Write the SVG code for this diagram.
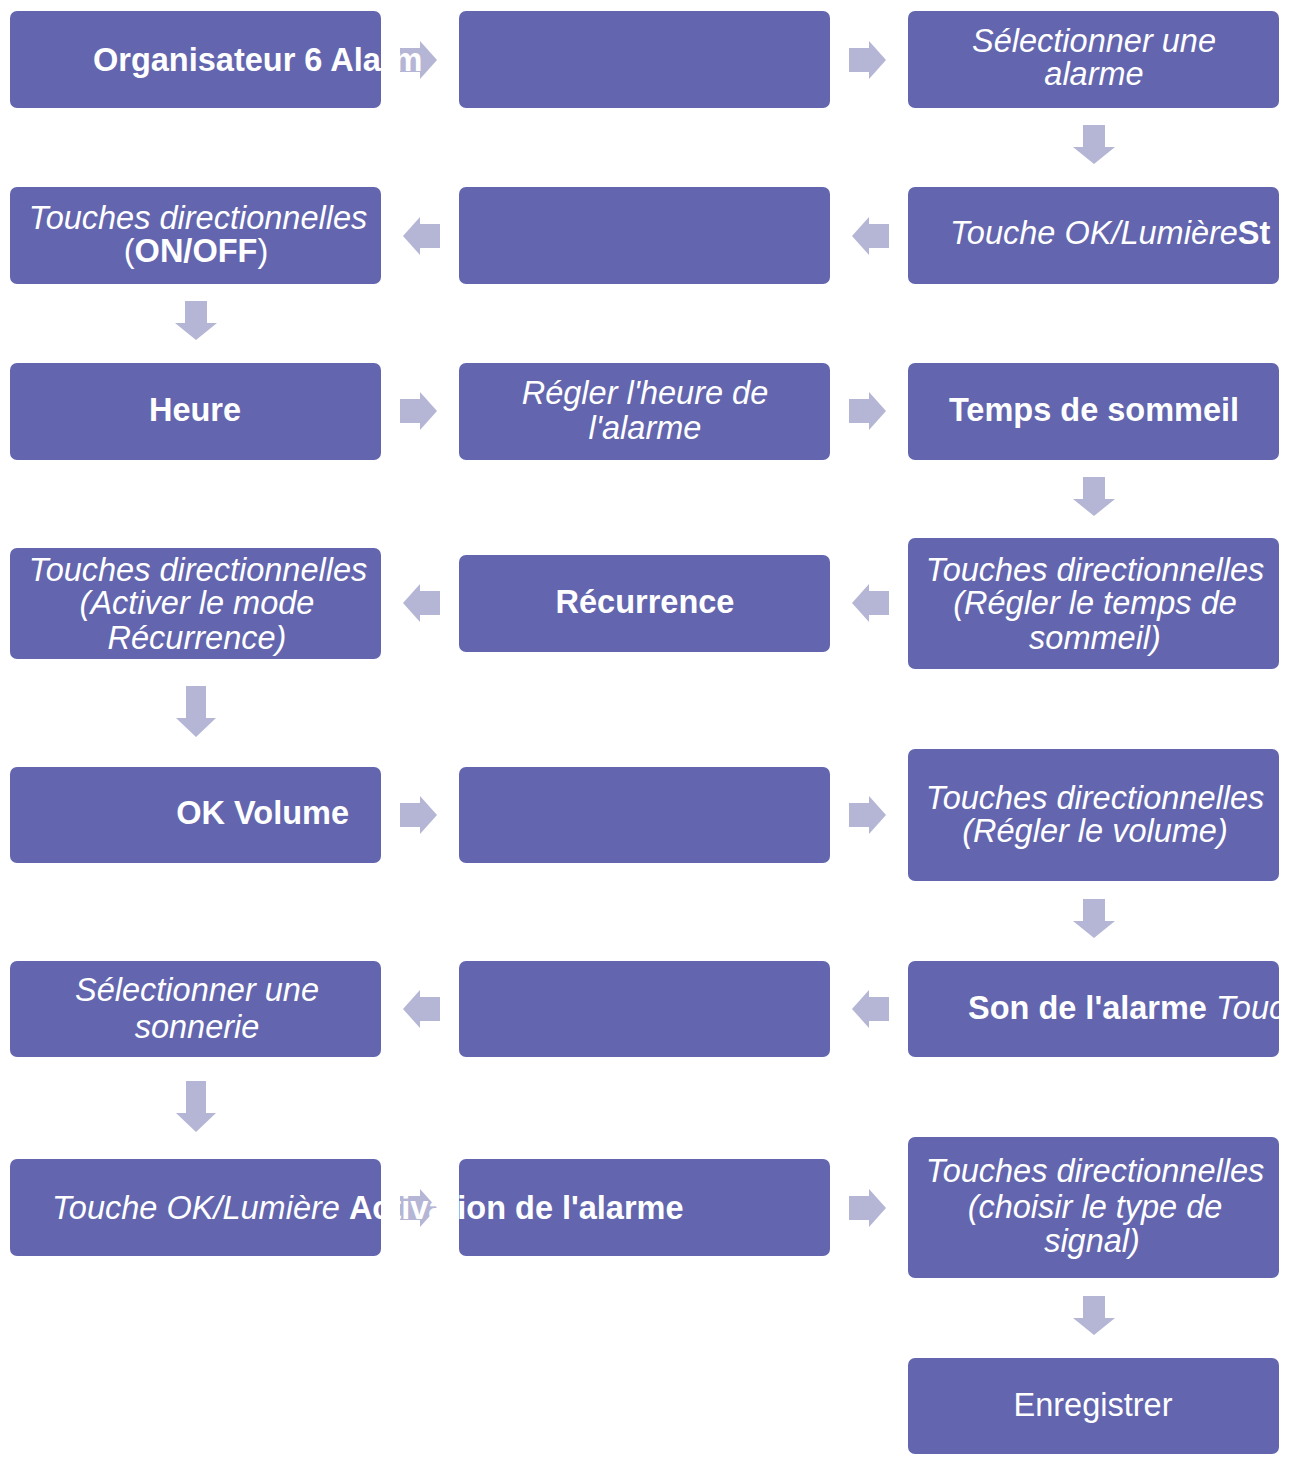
<svg xmlns="http://www.w3.org/2000/svg" width="1290" height="1462" viewBox="0 0 1290 1462">
<defs>
<style>
.box{fill:#6366ae;}
.arr{fill:#b5b6d5;}
text{fill:#ffffff;font-family:"Liberation Sans",Arial,Helvetica,sans-serif;font-size:32.5px;}
.i{font-style:italic;}
.b{font-weight:bold;}
.c{text-anchor:middle;}
</style>
<path id="ar" d="M0,-12 H20 V-19 L37,0 L20,19 V12 H0 Z"/>
<path id="al" d="M0,-12 H-20 V-19 L-37,0 L-20,19 V12 H0 Z"/>
<path id="ad" d="M-11,0 V22 H-21 L0,39 L21,22 H11 V0 Z"/>
<path id="adl" d="M-10,0 V32 H-20 L0,51 L20,32 H10 V0 Z"/>
</defs>
<rect width="1290" height="1462" fill="#ffffff"/>
<g id="connectors" class="arr">
<use href="#ar" x="400" y="60"/>
<use href="#ar" x="849" y="60"/>
<use href="#ad" x="1094" y="125"/>
<use href="#al" x="889" y="236"/>
<use href="#al" x="440" y="236"/>
<use href="#ad" x="196" y="301"/>
<use href="#ar" x="400" y="411"/>
<use href="#ar" x="849" y="411"/>
<use href="#ad" x="1094" y="477"/>
<use href="#al" x="889" y="603"/>
<use href="#al" x="440" y="603"/>
<use href="#adl" x="196" y="686"/>
<use href="#ar" x="400" y="815"/>
<use href="#ar" x="849" y="815"/>
<use href="#ad" x="1094" y="899"/>
<use href="#al" x="889" y="1009"/>
<use href="#al" x="440" y="1009"/>
<use href="#adl" x="196" y="1081"/>
<use href="#ar" x="400" y="1208"/>
<use href="#ar" x="849" y="1208"/>
<use href="#ad" x="1094" y="1296"/>
</g>
<g id="n2"><rect class="box" x="459" y="11" width="371" height="97" rx="7"/></g>
<g id="n1"><rect class="box" x="10" y="11" width="371" height="97" rx="7"/>
<text class="b" x="93" y="71">Organisateur 6 Alarm</text></g>
<g id="n3"><rect class="box" x="908" y="11" width="371" height="97" rx="7"/>
<text class="i c" x="1094" y="52">Sélectionner une</text>
<text class="i c" x="1094" y="85">alarme</text></g>
<g id="n5"><rect class="box" x="459" y="187" width="371" height="97" rx="7"/></g>
<g id="n4"><rect class="box" x="10" y="187" width="371" height="97" rx="7"/>
<text class="i c" x="198" y="229">Touches directionnelles</text>
<text class="c" x="196" y="262">(<tspan class="b">ON/OFF</tspan>)</text></g>
<g id="n6"><rect class="box" x="908" y="187" width="371" height="97" rx="7"/>
<text x="950" y="244"><tspan class="i">Touche OK/Lumière</tspan><tspan class="b">St</tspan></text></g>
<g id="n7"><rect class="box" x="10" y="363" width="371" height="97" rx="7"/>
<text class="b c" x="195" y="421">Heure</text></g>
<g id="n8"><rect class="box" x="459" y="363" width="371" height="97" rx="7"/>
<text class="i c" x="645" y="404">Régler l'heure de</text>
<text class="i c" x="645" y="439">l'alarme</text></g>
<g id="n9"><rect class="box" x="908" y="363" width="371" height="97" rx="7"/>
<text class="b c" x="1094" y="421">Temps de sommeil</text></g>
<g id="n10"><rect class="box" x="10" y="548" width="371" height="111" rx="7"/>
<text class="i c" x="198" y="581">Touches directionnelles</text>
<text class="i c" x="197" y="614">(Activer le mode</text>
<text class="i c" x="197" y="649">Récurrence)</text></g>
<g id="n11"><rect class="box" x="459" y="555" width="371" height="97" rx="7"/>
<text class="b c" x="645" y="613">Récurrence</text></g>
<g id="n12"><rect class="box" x="908" y="538" width="371" height="131" rx="7"/>
<text class="i c" x="1095" y="581">Touches directionnelles</text>
<text class="i c" x="1095" y="614">(Régler le temps de</text>
<text class="i c" x="1095" y="649">sommeil)</text></g>
<g id="n13"><rect class="box" x="10" y="767" width="371" height="96" rx="7"/>
<text class="b" x="349" y="824" text-anchor="end">OK Volume</text></g>
<g id="n14"><rect class="box" x="459" y="767" width="371" height="96" rx="7"/></g>
<g id="n15"><rect class="box" x="908" y="749" width="371" height="132" rx="7"/>
<text class="i c" x="1095" y="809">Touches directionnelles</text>
<text class="i c" x="1095" y="842">(Régler le volume)</text></g>
<g id="n16"><rect class="box" x="10" y="961" width="371" height="96" rx="7"/>
<text class="i c" x="197" y="1001">Sélectionner une</text>
<text class="i c" x="197" y="1038">sonnerie</text></g>
<g id="n17"><rect class="box" x="459" y="961" width="371" height="96" rx="7"/></g>
<g id="n18"><rect class="box" x="908" y="961" width="371" height="96" rx="7"/>
<text x="968" y="1019"><tspan class="b">Son de l'alarme</tspan> <tspan class="i">Touc</tspan></text></g>
<g id="n20"><rect class="box" x="459" y="1159" width="371" height="97" rx="7"/></g>
<g id="n19"><rect class="box" x="10" y="1159" width="371" height="97" rx="7"/>
<text x="52" y="1219"><tspan class="i">Touche OK/Lumière </tspan><tspan class="b">Activation de l'alarme</tspan></text></g>
<g id="n21"><rect class="box" x="908" y="1137" width="371" height="141" rx="7"/>
<text class="i c" x="1095" y="1182">Touches directionnelles</text>
<text class="i c" x="1095" y="1218">(choisir le type de</text>
<text class="i c" x="1092" y="1252">signal)</text></g>
<g id="n22"><rect class="box" x="908" y="1358" width="371" height="96" rx="7"/>
<text class="c" x="1093" y="1416">Enregistrer</text></g>
</svg>
